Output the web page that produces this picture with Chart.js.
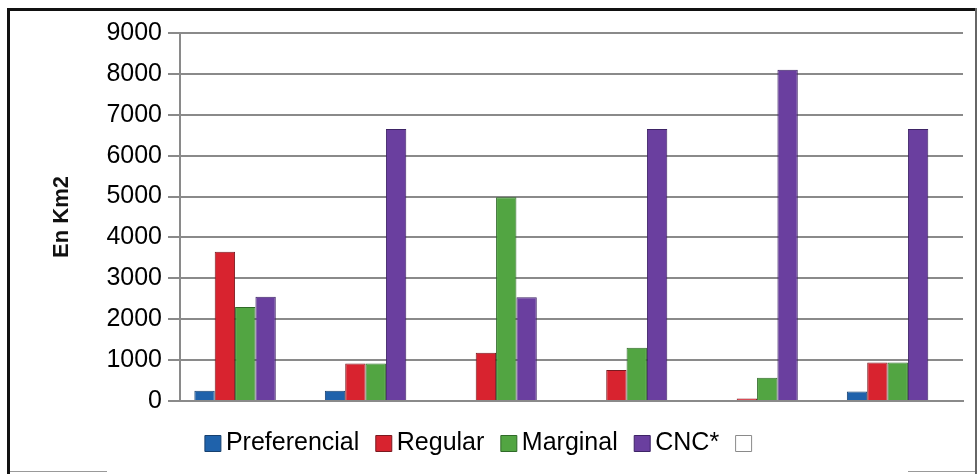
<!DOCTYPE html>
<html>
<head>
<meta charset="utf-8">
<script src="https://cdn.jsdelivr.net/npm/chart.js@4/dist/chart.umd.min.js"></script>
<style>
  html, body { margin: 0; padding: 0; background: #fff; }
  #wrap { position: relative; width: 980px; height: 474px; overflow: hidden; background: #fff; }
  .edge { position: absolute; }
  #top { left: 7px; top: 8px; width: 970px; height: 3px; background: #111; }
  #left { left: 7px; top: 8px; width: 3px; height: 466px; background: #111; }
  #right { left: 975px; top: 8px; width: 2px; height: 466px; background: #666; }
  #botL { left: 10px; top: 471px; width: 97px; height: 1px; background: #999; }
  #botR { left: 908px; top: 471px; width: 67px; height: 1px; background: #999; }
  canvas { position: absolute; left: 0; top: 0; }
</style>
</head>
<body>
<div id="wrap">
  <div class="edge" id="top"></div>
  <div class="edge" id="left"></div>
  <div class="edge" id="right"></div>
  <div class="edge" id="botL"></div>
  <div class="edge" id="botR"></div>
  <canvas id="c" width="980" height="474"></canvas>
</div>
<script>
// Zonas (sin etiqueta en el eje)
const categories = ['1', '2', '3', '4', '5', '6'];

// Superficie por categoría, en km2
const preferencial = [250, 250, 0, 0, 0, 230];
const regular      = [3650, 920, 1180, 760, 60, 940];
const marginal     = [2300, 920, 4980, 1300, 570, 940];
const cnc          = [2550, 6650, 2540, 6650, 8100, 6650];
const vacia        = [null, null, null, null, null, null];

const yTicks = [0, 1000, 2000, 3000, 4000, 5000, 6000, 7000, 8000, 9000];

const FONT = "'Liberation Sans', Arial, sans-serif";

const mk = (label, data, fill, edge) => ({
  label, data,
  backgroundColor: fill,
  borderColor: edge,
  borderWidth: 1,
  borderSkipped: 'bottom'
});

new Chart(document.getElementById('c'), {
  type: 'bar',
  data: {
    labels: categories,
    datasets: [
      mk('Preferencial', preferencial, '#1f62ab', '#17406e'),
      mk('Regular', regular, '#d8232f', '#7a1a20'),
      mk('Marginal', marginal, '#52a542', '#2f6a28'),
      mk('CNC*', cnc, '#6a3f9f', '#3e2466'),
      mk('', vacia, '#ffffff', '#8a8a8a')
    ]
  },
  options: {
    responsive: false,
    animation: false,
    layout: { padding: { left: 6, right: 17, top: 33, bottom: 8 } },
    datasets: { bar: { categoryPercentage: 0.78, barPercentage: 1.0 } },
    plugins: {
      tooltip: { enabled: false },
      legend: {
        position: 'bottom',
        labels: {
          font: { family: FONT, size: 25 },
          color: '#000',
          usePointStyle: true,
          pointStyle: 'rect',
          boxWidth: 1,
          boxHeight: 16,
          padding: 24
        }
      }
    },
    scales: {
      x: {
        ticks: { display: false },
        grid: { display: false, drawTicks: false },
        border: { display: true, color: '#8a8a8a', width: 2 },
        afterFit: s => { s.height = 6; }
      },
      y: {
        min: 0,
        max: 9000,
        afterBuildTicks: s => { s.ticks = yTicks.map(v => ({ value: v })); },
        ticks: {
          font: { family: FONT, size: 25 },
          color: '#000',
          padding: 6,
          callback: v => String(v)
        },
        grid: { color: '#8a8a8a', lineWidth: 2, tickLength: 12 },
        border: { color: '#8a8a8a', width: 2 },
        title: {
          display: true,
          text: 'En Km2',
          font: { family: FONT, size: 22, weight: 'bold' },
          color: '#111',
          padding: { top: 43, bottom: 0 }
        },
        afterFit: s => { s.width = 174; }
      }
    }
  }
});
</script>
</body>
</html>
